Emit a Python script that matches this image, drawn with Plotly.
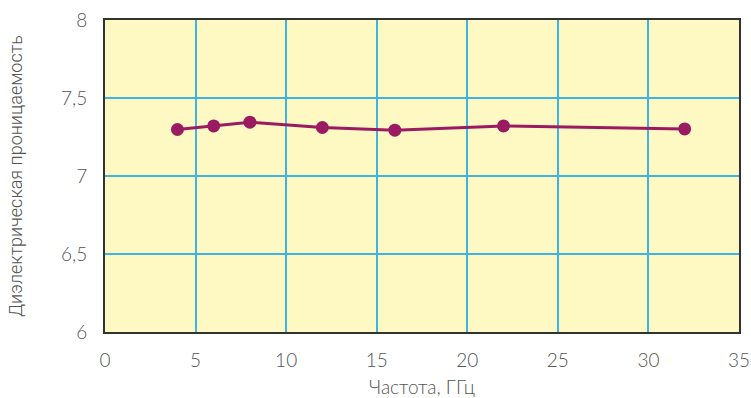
import plotly.graph_objects as go

freq = [4, 6, 8, 12, 16, 22, 32]
eps = [7.298, 7.321, 7.345, 7.311, 7.294, 7.321, 7.302]

x_ticks = [0, 5, 10, 15, 20, 25, 30, 35]
y_ticks = [6, 6.5, 7, 7.5, 8]
y_ticklabels = ["6", "6,5", "7", "7,5", "8"]

x_title = "Частота, ГГц"
y_title = "Диэлектрическая проницаемость"

fig = go.Figure()
fig.add_trace(go.Scatter(
    x=freq, y=eps, mode="lines+markers",
    line=dict(color="#9B1B63", width=3),
    marker=dict(color="#9B1B63", size=13),
    showlegend=False,
    cliponaxis=False,
))

fig.update_layout(
    width=751, height=398,
    margin=dict(l=105, r=12, t=20, b=66),
    paper_bgcolor="white",
    plot_bgcolor="#FEF8C2",
    font=dict(family="Lato, sans-serif", color="#555555"),
)
fig.update_xaxes(
    range=[0, 35], tickvals=x_ticks, ticktext=[str(v) for v in x_ticks],
    showgrid=True, gridcolor="#3DB5E0", gridwidth=1.5,
    showline=True, linecolor="#333333", linewidth=2, mirror=True,
    ticks="", tickfont=dict(size=19, color="#555555", weight=300), ticklabelstandoff=10,
    title=dict(text=x_title, font=dict(size=19, color="#555555", weight=300), standoff=13),
    zeroline=False, automargin=False,
)
fig.update_yaxes(
    range=[6, 8], tickvals=y_ticks, ticktext=y_ticklabels,
    showgrid=True, gridcolor="#3DB5E0", gridwidth=1.5,
    showline=True, linecolor="#333333", linewidth=2, mirror=True,
    ticks="", tickfont=dict(size=19, color="#555555", weight=300), ticklabelstandoff=12,
    title=dict(text=y_title, font=dict(family="Roboto, Liberation Sans, sans-serif", size=18, color="#555555", weight=300), standoff=34),
    zeroline=False, automargin=False,
)

fig.write_html("out.html", config={"displayModeBar": False},
               post_script="document.body.style.margin='0';document.body.style.overflow='hidden';")
